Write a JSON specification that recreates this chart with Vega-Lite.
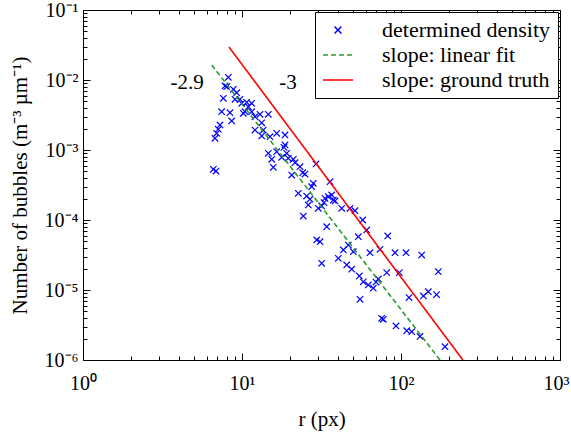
{
  "$schema": "https://vega.github.io/schema/vega-lite/v6.json",
  "width": 477,
  "height": 350,
  "autosize": "none",
  "padding": {"left": 83, "top": 10, "right": 11, "bottom": 77},
  "background": "white",
  "config": {
    "font": "Liberation Serif, Times New Roman, serif",
    "view": {"stroke": "black", "strokeWidth": 1},
    "text": {"font": "Liberation Serif, Times New Roman, serif"},
    "legend": {
      "orient": "top-right",
      "offset": 2,
      "labelFont": "Liberation Serif, Times New Roman, serif",
      "labelFontSize": 22,
      "labelColor": "black",
      "labelLimit": 400,
      "strokeColor": "black",
      "fillColor": "white",
      "padding": 7,
      "symbolSize": 900,
      "symbolStrokeWidth": 1.5,
      "clipHeight": 22,
      "rowPadding": 3,
      "labelOffset": 28
    },
    "axis": {
      "grid": false,
      "domain": false,
      "tickColor": "black",
      "tickWidth": 1,
      "labelColor": "black",
      "titleColor": "black",
      "labelFont": "Liberation Serif, Times New Roman, serif",
      "titleFont": "Liberation Serif, Times New Roman, serif",
      "labelFontSize": 20,
      "titleFontSize": 21,
      "titleFontWeight": "normal",
      "labelOverlap": false,
      "labelFlush": false,
      "labelBound": false
    }
  },
  "datasets": {
    "points": [
      {"series": "determined density", "r": 8.20, "n": 0.01094},
      {"series": "determined density", "r": 7.82, "n": 0.00821},
      {"series": "determined density", "r": 8.01, "n": 0.00802},
      {"series": "determined density", "r": 8.82, "n": 0.00736},
      {"series": "determined density", "r": 9.26, "n": 0.00659},
      {"series": "determined density", "r": 7.63, "n": 0.00548},
      {"series": "determined density", "r": 9.04, "n": 0.0053},
      {"series": "determined density", "r": 9.71, "n": 0.0053},
      {"series": "determined density", "r": 9.96, "n": 0.00465},
      {"series": "determined density", "r": 10.7, "n": 0.0048},
      {"series": "determined density", "r": 11.5, "n": 0.00465},
      {"series": "determined density", "r": 10.96, "n": 0.00415},
      {"series": "determined density", "r": 7.45, "n": 0.00352},
      {"series": "determined density", "r": 8.40, "n": 0.00341},
      {"series": "determined density", "r": 10.44, "n": 0.00352},
      {"series": "determined density", "r": 10.19, "n": 0.00334},
      {"series": "determined density", "r": 11.5, "n": 0.00352},
      {"series": "determined density", "r": 12.98, "n": 0.00324},
      {"series": "determined density", "r": 14.64, "n": 0.00324},
      {"series": "determined density", "r": 8.61, "n": 0.0026},
      {"series": "determined density", "r": 12.07, "n": 0.00299},
      {"series": "determined density", "r": 13.3, "n": 0.00245},
      {"series": "determined density", "r": 7.27, "n": 0.00228},
      {"series": "determined density", "r": 7.09, "n": 0.00198},
      {"series": "determined density", "r": 12.07, "n": 0.00193},
      {"series": "determined density", "r": 13.61, "n": 0.00193},
      {"series": "determined density", "r": 6.93, "n": 0.00173},
      {"series": "determined density", "r": 6.76, "n": 0.00147},
      {"series": "determined density", "r": 13.3, "n": 0.001585},
      {"series": "determined density", "r": 15.0, "n": 0.00155},
      {"series": "determined density", "r": 16.53, "n": 0.00173},
      {"series": "determined density", "r": 18.64, "n": 0.00164},
      {"series": "determined density", "r": 14.64, "n": 0.000897},
      {"series": "determined density", "r": 16.53, "n": 0.000946},
      {"series": "determined density", "r": 17.77, "n": 0.000787},
      {"series": "determined density", "r": 15.38, "n": 0.000736},
      {"series": "determined density", "r": 18.64, "n": 0.00118},
      {"series": "determined density", "r": 19.55, "n": 0.000761},
      {"series": "determined density", "r": 15.73, "n": 0.000566},
      {"series": "determined density", "r": 6.60, "n": 0.00053},
      {"series": "determined density", "r": 6.86, "n": 0.000501},
      {"series": "determined density", "r": 18.37, "n": 0.00109},
      {"series": "determined density", "r": 19.1, "n": 0.000897},
      {"series": "determined density", "r": 21.02, "n": 0.000736},
      {"series": "determined density", "r": 21.54, "n": 0.000659},
      {"series": "determined density", "r": 23.16, "n": 0.000577},
      {"series": "determined density", "r": 29.2, "n": 0.000631},
      {"series": "determined density", "r": 24.09, "n": 0.000474},
      {"series": "determined density", "r": 24.9, "n": 0.000454},
      {"series": "determined density", "r": 20.54, "n": 0.000439},
      {"series": "determined density", "r": 28.08, "n": 0.000334},
      {"series": "determined density", "r": 27.44, "n": 0.000299},
      {"series": "determined density", "r": 35.78, "n": 0.000352},
      {"series": "determined density", "r": 22.6, "n": 0.000241},
      {"series": "determined density", "r": 25.5, "n": 0.00022},
      {"series": "determined density", "r": 26.77, "n": 0.000198},
      {"series": "determined density", "r": 33.27, "n": 0.000204},
      {"series": "determined density", "r": 34.9, "n": 0.000215},
      {"series": "determined density", "r": 36.66, "n": 0.000228},
      {"series": "determined density", "r": 37.52, "n": 0.000193},
      {"series": "determined density", "r": 26.12, "n": 0.000164},
      {"series": "determined density", "r": 30.19, "n": 0.000147},
      {"series": "determined density", "r": 31.71, "n": 0.0001585},
      {"series": "determined density", "r": 42.37, "n": 0.000147},
      {"series": "determined density", "r": 47.78, "n": 0.000147},
      {"series": "determined density", "r": 51.37, "n": 0.000136},
      {"series": "determined density", "r": 24.3, "n": 0.000114},
      {"series": "determined density", "r": 34.1, "n": 0.0000802},
      {"series": "determined density", "r": 38.46, "n": 0.000187},
      {"series": "determined density", "r": 32.78, "n": 0.000177},
      {"series": "determined density", "r": 57.42, "n": 0.0001},
      {"series": "determined density", "r": 60.84, "n": 0.000072},
      {"series": "determined density", "r": 53.88, "n": 0.0000577},
      {"series": "determined density", "r": 29.5, "n": 0.0000518},
      {"series": "determined density", "r": 30.95, "n": 0.000049},
      {"series": "determined density", "r": 46.63, "n": 0.0000439},
      {"series": "determined density", "r": 43.37, "n": 0.0000373},
      {"series": "determined density", "r": 50.12, "n": 0.0000352},
      {"series": "determined density", "r": 63.83, "n": 0.0000341},
      {"series": "determined density", "r": 31.71, "n": 0.0000241},
      {"series": "determined density", "r": 40.33, "n": 0.0000284},
      {"series": "determined density", "r": 45.55, "n": 0.0000228},
      {"series": "determined density", "r": 48.97, "n": 0.0000198},
      {"series": "determined density", "r": 54.67, "n": 0.00001585},
      {"series": "determined density", "r": 57.93, "n": 0.0000131},
      {"series": "determined density", "r": 62.26, "n": 0.0000118},
      {"series": "determined density", "r": 66.95, "n": 0.0000106},
      {"series": "determined density", "r": 71.97, "n": 0.0000144},
      {"series": "determined density", "r": 69.63, "n": 0.000013},
      {"series": "determined density", "r": 82.5, "n": 0.0000591},
      {"series": "determined density", "r": 73.8, "n": 0.0000382},
      {"series": "determined density", "r": 91.7, "n": 0.0000341},
      {"series": "determined density", "r": 107.5, "n": 0.0000341},
      {"series": "determined density", "r": 134.9, "n": 0.0000316},
      {"series": "determined density", "r": 81.3, "n": 0.0000177},
      {"series": "determined density", "r": 97.6, "n": 0.0000177},
      {"series": "determined density", "r": 171.7, "n": 0.0000183},
      {"series": "determined density", "r": 55.23, "n": 0.00000736},
      {"series": "determined density", "r": 112.3, "n": 0.00000781},
      {"series": "determined density", "r": 138.5, "n": 0.00000821},
      {"series": "determined density", "r": 148.5, "n": 0.00000946},
      {"series": "determined density", "r": 167.2, "n": 0.00000862},
      {"series": "determined density", "r": 75.6, "n": 0.00000394},
      {"series": "determined density", "r": 77.4, "n": 0.00000382},
      {"series": "determined density", "r": 93.0, "n": 0.00000306},
      {"series": "determined density", "r": 108.6, "n": 0.00000262},
      {"series": "determined density", "r": 116.8, "n": 0.00000254},
      {"series": "determined density", "r": 131.7, "n": 0.00000217},
      {"series": "determined density", "r": 189.1, "n": 0.00000155}
    ],
    "fits": [
      {"series": "slope: linear fit", "r": 6.45, "n": 0.0164},
      {"series": "slope: linear fit", "r": 176, "n": 0.000001},
      {"series": "slope: ground truth", "r": 8.28, "n": 0.0296},
      {"series": "slope: ground truth", "r": 245, "n": 0.000001}
    ],
    "notes": [
      {"label": "-2.9", "r": 4.51, "n": 0.00906},
      {"label": "-3", "r": 19.5, "n": 0.00906}
    ]
  },
  "layer": [
    {
      "data": {"name": "points"},
      "mark": {"type": "point", "filled": false, "size": 775, "strokeWidth": 1.2, "opacity": 1},
      "encoding": {
        "x": {
          "field": "r", "type": "quantitative",
          "scale": {"type": "log", "domain": [1, 1000], "nice": false},
          "axis": {
            "orient": "bottom",
            "title": "r (px)",
            "titlePadding": 12,
            "values": [1,2,3,4,5,6,7,8,9,10,20,30,40,50,60,70,80,90,100,200,300,400,500,600,700,800,900,1000],
            "tickSize": {"condition": {"test": "abs(log(datum.value)/LN10 - round(log(datum.value)/LN10)) < 0.001", "value": -7}, "value": -4},
            "labelPadding": 20,
            "labelOffset": {"condition": {"test": "datum.value == 1000", "value": -4}, "value": 0},
            "labelExpr": "datum.value == 1 ? '10⁰' : datum.value == 10 ? '10¹' : datum.value == 100 ? '10²' : datum.value == 1000 ? '10³' : ''"
          }
        },
        "y": {
          "field": "n", "type": "quantitative",
          "scale": {"type": "log", "domain": [0.000001, 0.1], "nice": false},
          "axis": {
            "orient": "left",
            "title": "Number of bubbles (m⁻³ µm⁻¹)",
            "titlePadding": 14,
            "values": [0.000001,0.000002,0.000003,0.000004,0.000005,0.000006,0.000007,0.000008,0.000009,0.00001,0.00002,0.00003,0.00004,0.00005,0.00006,0.00007,0.00008,0.00009,0.0001,0.0002,0.0003,0.0004,0.0005,0.0006,0.0007,0.0008,0.0009,0.001,0.002,0.003,0.004,0.005,0.006,0.007,0.008,0.009,0.01,0.02,0.03,0.04,0.05,0.06,0.07,0.08,0.09,0.1],
            "tickSize": {"condition": {"test": "abs(log(datum.value)/LN10 - round(log(datum.value)/LN10)) < 0.001", "value": -7}, "value": -4},
            "labelPadding": 12,
            "labelExpr": "datum.value == 0.1 ? '10⁻¹' : datum.value == 0.01 ? '10⁻²' : datum.value == 0.001 ? '10⁻³' : datum.value == 0.0001 ? '10⁻⁴' : datum.value == 0.00001 ? '10⁻⁵' : datum.value == 0.000001 ? '10⁻⁶' : ''"
          }
        },
        "color": {
          "field": "series", "type": "nominal",
          "scale": {"domain": ["determined density", "slope: linear fit", "slope: ground truth"], "range": ["#0000ff", "#2e9a2e", "#ff0000"]},
          "legend": {"title": null}
        },
        "shape": {
          "field": "series", "type": "nominal",
          "scale": {"domain": ["determined density", "slope: linear fit", "slope: ground truth"], "range": ["M-0.23,-0.23L0.23,0.23M-0.23,0.23L0.23,-0.23", "stroke", "stroke"]},
          "legend": {"title": null}
        }
      }
    },
    {
      "data": {"name": "fits"},
      "mark": {"type": "line", "strokeWidth": 1.6, "clip": true},
      "encoding": {
        "x": {
          "field": "r", "type": "quantitative",
          "scale": {"type": "log", "domain": [1, 1000], "nice": false},
          "axis": {
            "orient": "top",
            "title": null,
            "labels": false,
            "values": [1,2,3,4,5,6,7,8,9,10,20,30,40,50,60,70,80,90,100,200,300,400,500,600,700,800,900,1000],
            "tickSize": {"condition": {"test": "abs(log(datum.value)/LN10 - round(log(datum.value)/LN10)) < 0.001", "value": -7}, "value": -4}
          }
        },
        "y": {
          "field": "n", "type": "quantitative",
          "scale": {"type": "log", "domain": [0.000001, 0.1], "nice": false},
          "axis": {
            "orient": "right",
            "title": null,
            "labels": false,
            "values": [0.000001,0.000002,0.000003,0.000004,0.000005,0.000006,0.000007,0.000008,0.000009,0.00001,0.00002,0.00003,0.00004,0.00005,0.00006,0.00007,0.00008,0.00009,0.0001,0.0002,0.0003,0.0004,0.0005,0.0006,0.0007,0.0008,0.0009,0.001,0.002,0.003,0.004,0.005,0.006,0.007,0.008,0.009,0.01,0.02,0.03,0.04,0.05,0.06,0.07,0.08,0.09,0.1],
            "tickSize": {"condition": {"test": "abs(log(datum.value)/LN10 - round(log(datum.value)/LN10)) < 0.001", "value": -7}, "value": -4}
          }
        },
        "color": {"field": "series", "type": "nominal", "legend": {"title": null}},
        "strokeDash": {
          "field": "series", "type": "nominal",
          "scale": {"domain": ["determined density", "slope: linear fit", "slope: ground truth"], "range": [[1, 0], [5, 3], [1, 0]]},
          "legend": {"title": null}
        }
      }
    },
    {
      "data": {"name": "notes"},
      "mark": {"type": "text", "font": "Liberation Serif, Times New Roman, serif", "fontSize": 21, "color": "black", "align": "center", "baseline": "middle"},
      "encoding": {
        "x": {"field": "r", "type": "quantitative", "scale": {"type": "log", "domain": [1, 1000], "nice": false}, "axis": null},
        "y": {"field": "n", "type": "quantitative", "scale": {"type": "log", "domain": [0.000001, 0.1], "nice": false}, "axis": null},
        "text": {"field": "label"}
      }
    }
  ],
  "resolve": {"axis": {"x": "independent", "y": "independent"}}
}
